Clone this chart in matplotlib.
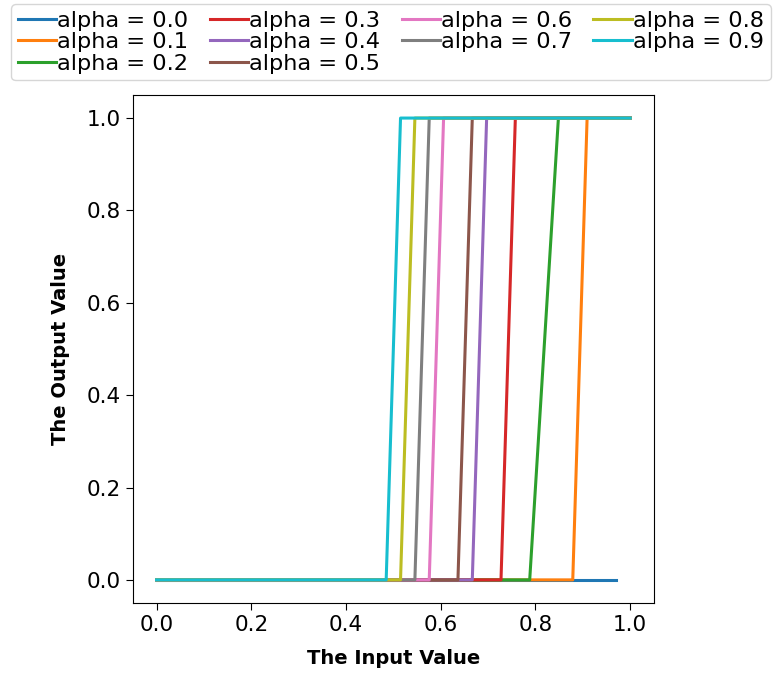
import numpy as np
import matplotlib
matplotlib.use("Agg")
import matplotlib.pyplot as plt

#input grid (34 samples between 0 and 1)
x = np.linspace(0, 1, 34)

alphas = [0.0, 0.1, 0.2, 0.3, 0.4, 0.5, 0.6, 0.7, 0.8, 0.9]
#index of the last sample at 0 and the first sample at 1
last_zero = [32, 29, 26, 24, 22, 21, 19, 18, 17, 16]
first_one = [None, 30, 28, 25, 23, 22, 20, 19, 18, 17]
#number of samples plotted for each curve
n_points = [33, 34, 34, 34, 34, 34, 34, 34, 34, 34]

###########################################################################################################
fig = plt.figure(figsize=(7.77, 6.75), dpi=100)
ax = fig.add_axes([0.171, 0.1067, 0.6705, 0.7526])

for a, lz, fo, n in zip(alphas, last_zero, first_one, n_points):
    xs = x[:n]
    idx = np.arange(n)
    y = np.zeros(n)
    if fo is not None:
        y[idx >= fo] = 1.0
        y[(idx > lz) & (idx < fo)] = 0.5
    ax.plot(xs, y, linewidth=2.2, label=f"alpha = {a}")

ax.set_xlabel("The Input Value", fontsize=14, fontweight="bold", labelpad=10)
ax.set_ylabel("The Output Value", fontsize=14, fontweight="bold", labelpad=12)
ax.tick_params(labelsize=15.5, length=5)
ax.set_xticks([0.0, 0.2, 0.4, 0.6, 0.8, 1.0])
ax.set_yticks([0.0, 0.2, 0.4, 0.6, 0.8, 1.0])

fig.legend(loc="upper center", bbox_to_anchor=(0.503, 0.994), ncol=4, fontsize=16.2,
           handlelength=1.7, handletextpad=0.05, labelspacing=0.06, columnspacing=0.95,
           borderpad=0.3, borderaxespad=0)

fig.savefig("out.png", dpi=100)
